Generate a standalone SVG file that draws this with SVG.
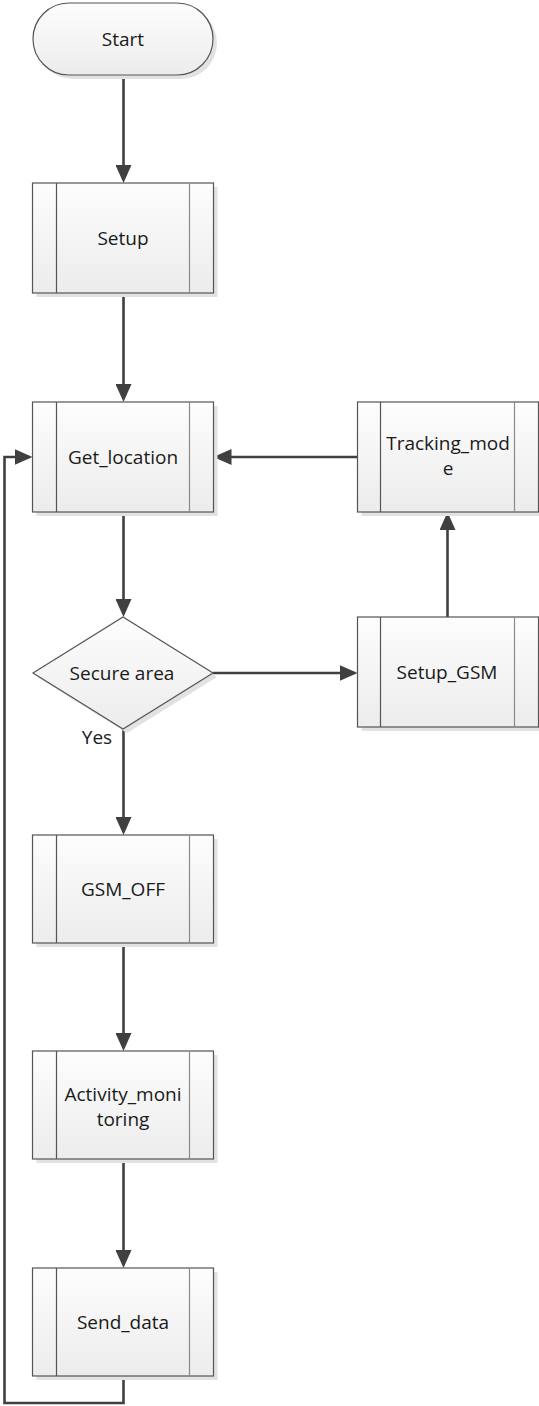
<svg xmlns="http://www.w3.org/2000/svg" width="539" height="1406" viewBox="0 0 539 1406">
<style>
.sh{fill:#e2e2e2;stroke:none}
.box{fill:url(#g);stroke:#555;stroke-width:1.2}
.in1{stroke:#555;stroke-width:1.2}
.in2{stroke:#8a8a8a;stroke-width:1.2}
.t{font-family:"Open Sans","Liberation Sans",sans-serif;font-size:19px;fill:#1a1a1a;text-anchor:middle}
.c{fill:none;stroke:#404040;stroke-width:2.6}
</style>
<defs>
<linearGradient id="g" x1="0" y1="0" x2="0" y2="1">
<stop offset="0" stop-color="#fdfdfd"/>
<stop offset="1" stop-color="#ececec"/>
</linearGradient>
<marker id="a" markerUnits="userSpaceOnUse" markerWidth="18" markerHeight="16" refX="15" refY="8" orient="auto">
<path d="M0,0 L18,8 L0,16 z" fill="#404040"/>
</marker>
</defs>

<g id="connectors">
<path class="c" d="M123.5,75 V180" marker-end="url(#a)"/>
<path class="c" d="M123.5,293 V399" marker-end="url(#a)"/>
<path class="c" d="M123.5,512 V614" marker-end="url(#a)"/>
<path class="c" d="M123.5,729 V832" marker-end="url(#a)"/>
<path class="c" d="M123.5,943 V1048" marker-end="url(#a)"/>
<path class="c" d="M123.5,1159 V1265" marker-end="url(#a)"/>
<path class="c" d="M123.5,1376 V1403 H4.5 V457 H29.5" marker-end="url(#a)"/>
<path class="c" d="M213,673 H354.5" marker-end="url(#a)"/>
<path class="c" d="M447.5,617 V515" marker-end="url(#a)"/>
<path class="c" d="M357.5,457 H216.5" marker-end="url(#a)"/>
</g>

<g id="start">
<rect class="sh" x="37" y="7" width="180" height="72" rx="36"/>
<rect class="box" x="33" y="3" width="180" height="72" rx="36"/>
<text class="t" x="123" y="46">Start</text>
</g>

<g id="setup">
<rect class="sh" x="36.5" y="187" width="181" height="110"/>
<rect class="box" x="32.5" y="183" width="181" height="110"/>
<line class="in1" x1="56.5" y1="183" x2="56.5" y2="293"/>
<line class="in2" x1="189.5" y1="183" x2="189.5" y2="293"/>
<text class="t" x="123" y="245">Setup</text>
</g>

<g id="get_location">
<rect class="sh" x="36.5" y="406" width="181" height="110"/>
<rect class="box" x="32.5" y="402" width="181" height="110"/>
<line class="in1" x1="56.5" y1="402" x2="56.5" y2="512"/>
<line class="in2" x1="189.5" y1="402" x2="189.5" y2="512"/>
<text class="t" x="123" y="464">Get_location</text>
</g>

<g id="tracking_mode">
<rect class="sh" x="361.5" y="406" width="181" height="110"/>
<rect class="box" x="357.5" y="402" width="181" height="110"/>
<line class="in1" x1="380.5" y1="402" x2="380.5" y2="512"/>
<line class="in2" x1="514.5" y1="402" x2="514.5" y2="512"/>
<text class="t" x="448" y="450">Tracking_mod</text>
<text class="t" x="448" y="475">e</text>
</g>

<g id="secure_area">
<polygon class="sh" points="37,677 127,621 217,677 127,733"/>
<polygon class="box" points="33,673 123,617 213,673 123,729"/>
<text class="t" x="122" y="680">Secure area</text>
<text class="t" x="97" y="744">Yes</text>
</g>

<g id="setup_gsm">
<rect class="sh" x="361.5" y="621" width="181" height="110"/>
<rect class="box" x="357.5" y="617" width="181" height="110"/>
<line class="in1" x1="380.5" y1="617" x2="380.5" y2="727"/>
<line class="in2" x1="514.5" y1="617" x2="514.5" y2="727"/>
<text class="t" x="447" y="679">Setup_GSM</text>
</g>

<g id="gsm_off">
<rect class="sh" x="36.5" y="839" width="181" height="108"/>
<rect class="box" x="32.5" y="835" width="181" height="108"/>
<line class="in1" x1="56.5" y1="835" x2="56.5" y2="943"/>
<line class="in2" x1="189.5" y1="835" x2="189.5" y2="943"/>
<text class="t" x="123" y="896">GSM_OFF</text>
</g>

<g id="activity_monitoring">
<rect class="sh" x="36.5" y="1055" width="181" height="108"/>
<rect class="box" x="32.5" y="1051" width="181" height="108"/>
<line class="in1" x1="56.5" y1="1051" x2="56.5" y2="1159"/>
<line class="in2" x1="189.5" y1="1051" x2="189.5" y2="1159"/>
<text class="t" x="123" y="1101">Activity_moni</text>
<text class="t" x="123" y="1126">toring</text>
</g>

<g id="send_data">
<rect class="sh" x="36.5" y="1272" width="181" height="108"/>
<rect class="box" x="32.5" y="1268" width="181" height="108"/>
<line class="in1" x1="56.5" y1="1268" x2="56.5" y2="1376"/>
<line class="in2" x1="189.5" y1="1268" x2="189.5" y2="1376"/>
<text class="t" x="123" y="1329">Send_data</text>
</g>
</svg>
